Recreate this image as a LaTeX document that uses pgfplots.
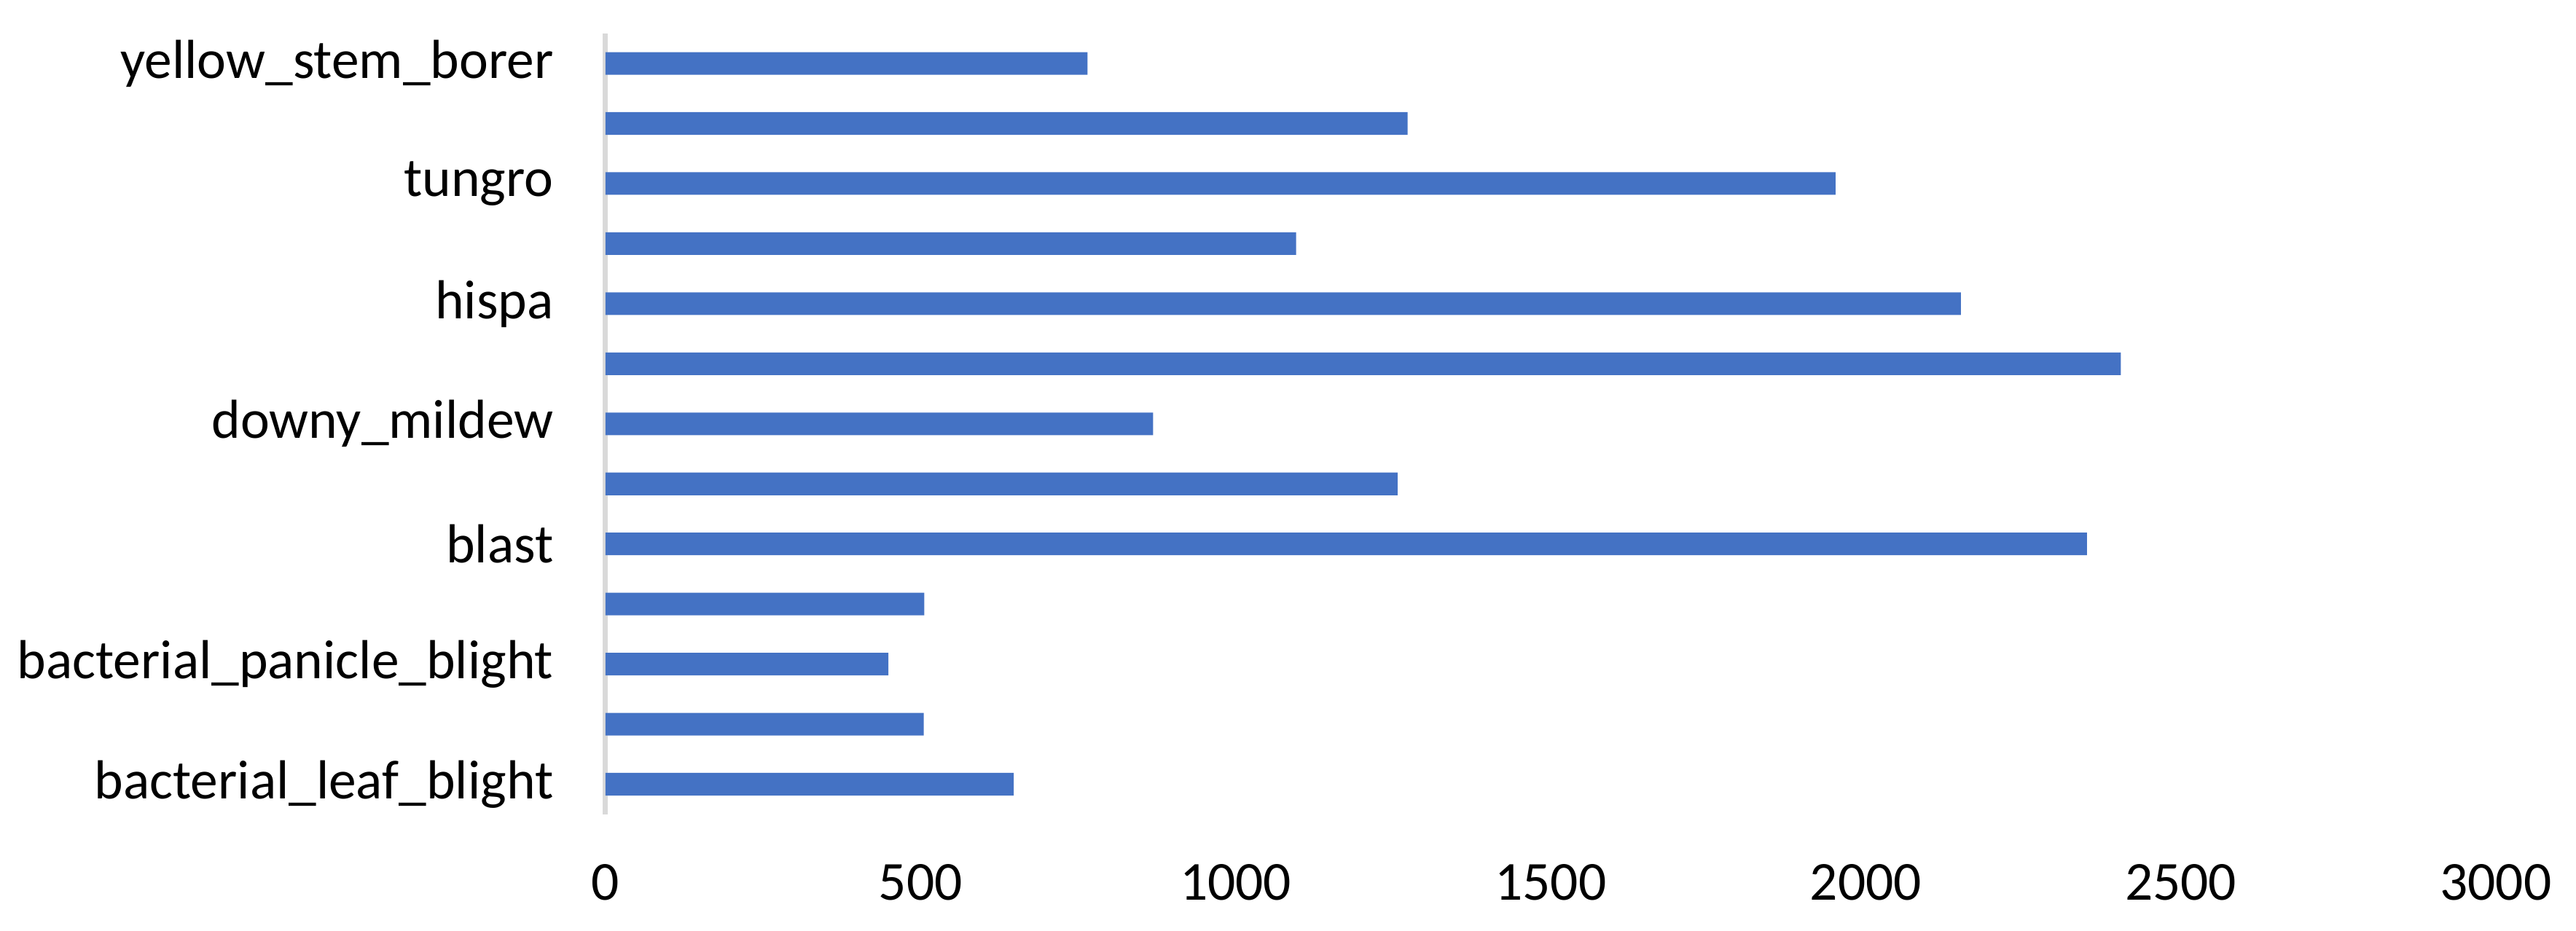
\documentclass[border=0pt]{standalone}
\usepackage{fontspec}
\setmainfont{Carlito}
\usepackage{pgfplots}
\pgfplotsset{compat=1.18}
\definecolor{barblue}{HTML}{4472C4}
\definecolor{axisgray}{HTML}{D9D9D9}

\begin{document}
\begin{tikzpicture}
% page frame, to keep the reference's margins
\path (-116.8pt,-22.6pt) rectangle (383.2pt,158.4pt);
\begin{axis}[
    at={(0,0)}, anchor=south west,
    scale only axis,
    width=367.6pt, height=151.9pt,
    xbar,
    bar width=4.4pt,
    xmin=0, xmax=3000,
    ymin=-0.5, ymax=12.5,
    enlargelimits=false,
    xtick={0,500,...,3000},
    ytick={0,2,...,12},
    yticklabels={bacterial\_leaf\_blight, bacterial\_panicle\_blight, blast,
                 downy\_mildew, hispa, tungro, yellow\_stem\_borer},
    axis y line*=left,
    axis x line*=bottom,
    x axis line style={draw=none},
    y axis line style={draw=axisgray, line width=1pt},
    major tick length=0pt,
    tick style={draw=none},
    ticklabel style={font=\fontsize{10.7}{13}\selectfont, text=black},
    xticklabel style={yshift=-6.2pt},
    yticklabel style={xshift=-6.6pt},
    /pgf/number format/assume math mode=true,
    scaled x ticks=false,
    xticklabel={\pgfmathprintnumber[fixed,1000 sep={}]{\tick}},
]
\addplot[fill=barblue, draw=none] coordinates {
    (648,0)   % bacterial_leaf_blight
    (505,1)
    (449,2)   % bacterial_panicle_blight
    (506,3)
    (2351,4)  % blast
    (1257,5)
    (869,6)   % downy_mildew
    (2405,7)
    (2151,8)  % hispa
    (1096,9)
    (1952,10) % tungro
    (1273,11)
    (765,12)  % yellow_stem_borer
};
\end{axis}
\end{tikzpicture}
\end{document}
